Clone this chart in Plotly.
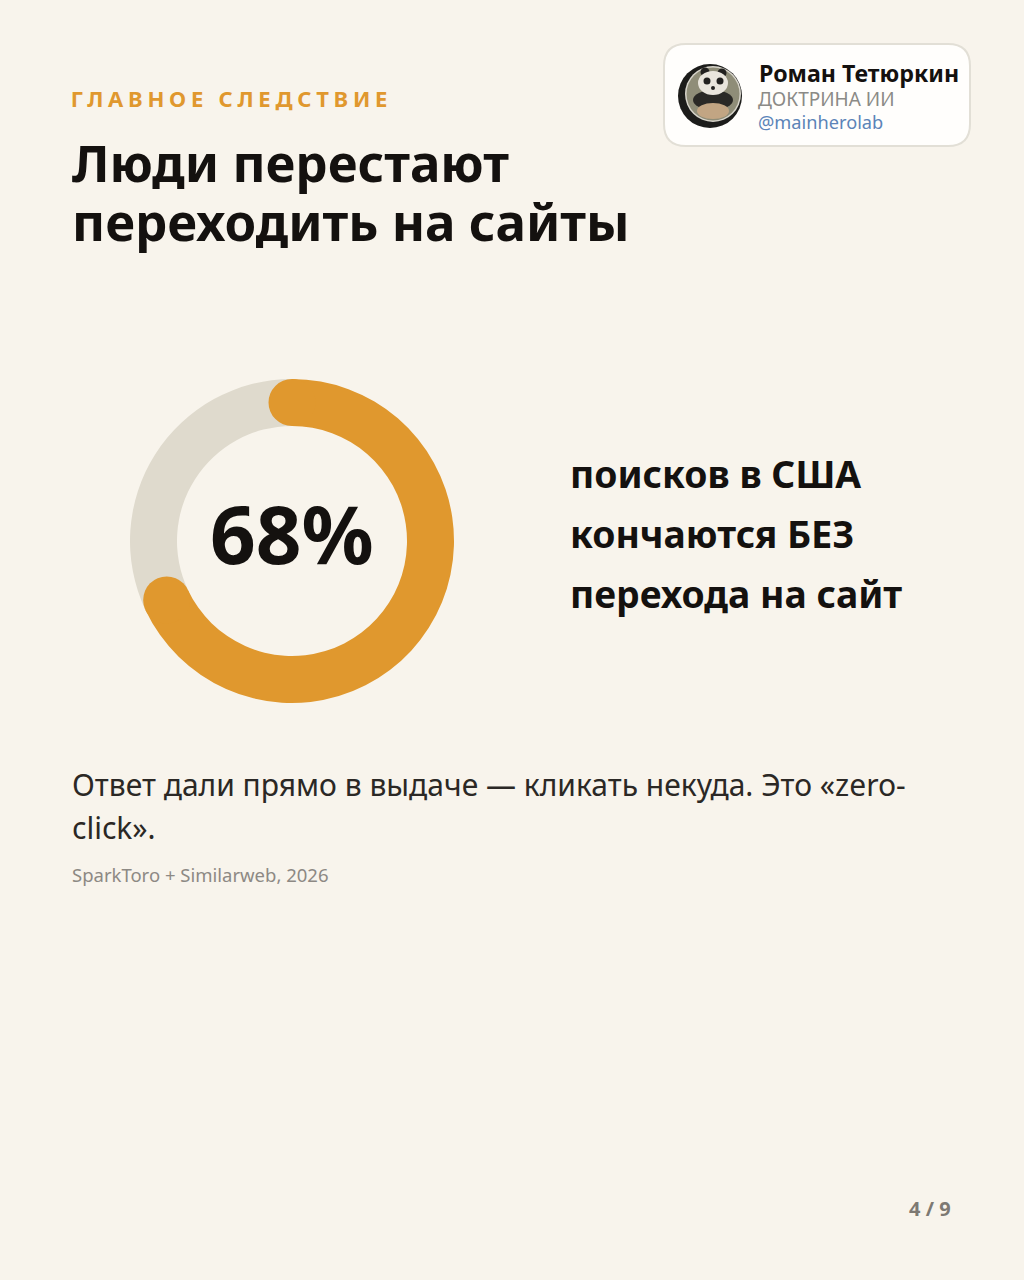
import math
import plotly.graph_objects as go

W = 1024
H = 1280
BG = '#f8f4ec'
ORANGE = '#e0982e'
GREY = '#dfdacd'
INK = '#14110f'
FONT = 'Noto Sans'

# donut data
slice_labels = ['без перехода на сайт', 'остальные']
slice_values = [68, 32]
slice_colors = [ORANGE, GREY]

eyebrow = 'ГЛАВНОЕ СЛЕДСТВИЕ'
title_lines = ['Люди перестают', 'переходить на сайты']
center_label = '68%'
side_lines = ['поисков в США', 'кончаются БЕЗ', 'перехода на сайт']
body_lines = ['Ответ дали прямо в выдаче — кликать некуда. Это «zero-', 'click».']
source = 'SparkToro + Similarweb, 2026'
page_label = '4 / 9'
card_name = 'Роман Тетюркин'
card_role = 'ДОКТРИНА ИИ'
card_handle = '@mainherolab'

# donut geometry in pixels
cx, cy = 292, 541
r_out, r_in = 162, 115


def px(x):
    return x / W


def py(y):
    return 1 - y / H


def circle(x, y, r, color, rx=None):
    rx = r if rx is None else rx
    return dict(type='circle', xref='paper', yref='paper', x0=px(x - rx), x1=px(x + rx),
                y0=py(y + r), y1=py(y - r), fillcolor=color, line=dict(width=0), layer='above')


def text(x, y, s, size, color=INK, weight=400, anchor='left'):
    # annotations carry about 2px of padding, take it off left aligned text
    x = x - 2 if anchor == 'left' else x
    return dict(x=px(x), y=py(y), xref='paper', yref='paper', text=s, showarrow=False,
                xanchor=anchor, yanchor='middle', align=anchor,
                font=dict(family=FONT, size=size, color=color, weight=weight))


fig = go.Figure()
fig.add_trace(go.Pie(labels=slice_labels, values=slice_values, hole=r_in / r_out, sort=False,
                     direction='clockwise', rotation=0, textinfo='none', showlegend=False,
                     marker=dict(colors=slice_colors, line=dict(width=0)),
                     domain=dict(x=[px(cx - r_out), px(cx + r_out)], y=[py(cy + r_out), py(cy - r_out)])))

# round caps at both ends of the orange arc
r_mid = (r_out + r_in) / 2
r_cap = (r_out - r_in) / 2
end_angle = 2 * math.pi * slice_values[0] / sum(slice_values)
shapes = [
    circle(cx, cy - r_mid, r_cap, ORANGE),
    circle(cx + r_mid * math.sin(end_angle), cy - r_mid * math.cos(end_angle), r_cap, ORANGE),
]

# author card
x0, x1, y0, y1, r = px(664), px(970), py(146), py(44), 22
rx_, ry_ = r / W, r / H
shapes.append(dict(
    type='path', xref='paper', yref='paper', layer='above', fillcolor='#fffefc',
    line=dict(color='#e2dfd6', width=2),
    path=f'M {x0 + rx_} {y0} L {x1 - rx_} {y0} Q {x1} {y0} {x1} {y0 + ry_} L {x1} {y1 - ry_} '
         f'Q {x1} {y1} {x1 - rx_} {y1} L {x0 + rx_} {y1} Q {x0} {y1} {x0} {y1 - ry_} '
         f'L {x0} {y0 + ry_} Q {x0} {y0} {x0 + rx_} {y0} Z'))

# avatar (panda drawn roughly)
shapes += [
    circle(710, 96, 32, '#1c1c1a'),
    circle(713, 94, 28, '#d8d5cb'),
    circle(713, 94, 26.5, '#8f8d78'),
    circle(713, 100, 10, '#2a2926', rx=20),
    circle(713, 111, 8, '#c2a583', rx=16),
    circle(705, 72, 4.5, '#22211f'),
    circle(722, 73, 4.5, '#22211f'),
    circle(713, 83, 12, '#e9e5dc', rx=15),
    circle(707, 81, 3.5, '#22211f'),
    circle(720, 81, 3.5, '#22211f'),
    circle(713, 88, 2, '#22211f'),
]

annotations = [
    text(231, 98, eyebrow, 22, ORANGE, 700, 'center'),
    text(72, 162, title_lines[0], 51, INK, 700),
    text(72, 221, title_lines[1], 51, INK, 700),
    text(cx, 532, center_label, 80, INK, 700, 'center'),
    text(570, 473, side_lines[0], 37.3, INK, 700),
    text(570, 533, side_lines[1], 37.3, INK, 700),
    text(570, 593, side_lines[2], 37.3, INK, 700),
    text(72, 784, body_lines[0], 30, '#2b2825'),
    text(72, 827, body_lines[1], 30, '#2b2825'),
    text(72, 874, source, 18.5, '#8d8984'),
    text(930, 1208, page_label, 20, '#7d7973', 700, 'center'),
    text(759, 73, card_name, 23.2, INK, 700),
    text(758, 99, card_role, 19, '#8b8a86'),
    text(758, 122, card_handle, 18.2, '#5b84b8'),
]

fig.update_layout(width=W, height=H, margin=dict(l=0, r=0, t=0, b=0), paper_bgcolor=BG,
                  plot_bgcolor=BG, shapes=shapes, annotations=annotations, showlegend=False)

# no default body margin, plus the wide tracking on the eyebrow line
post = """
document.body.style.margin = '0';
document.querySelectorAll('.annotation-text').forEach(function (t) {
  if (t.textContent.indexOf('ГЛАВНОЕ') === 0) { t.style.letterSpacing = '4.75px'; }
});
"""
fig.write_html('out.html', config=dict(displayModeBar=False), post_script=post)
